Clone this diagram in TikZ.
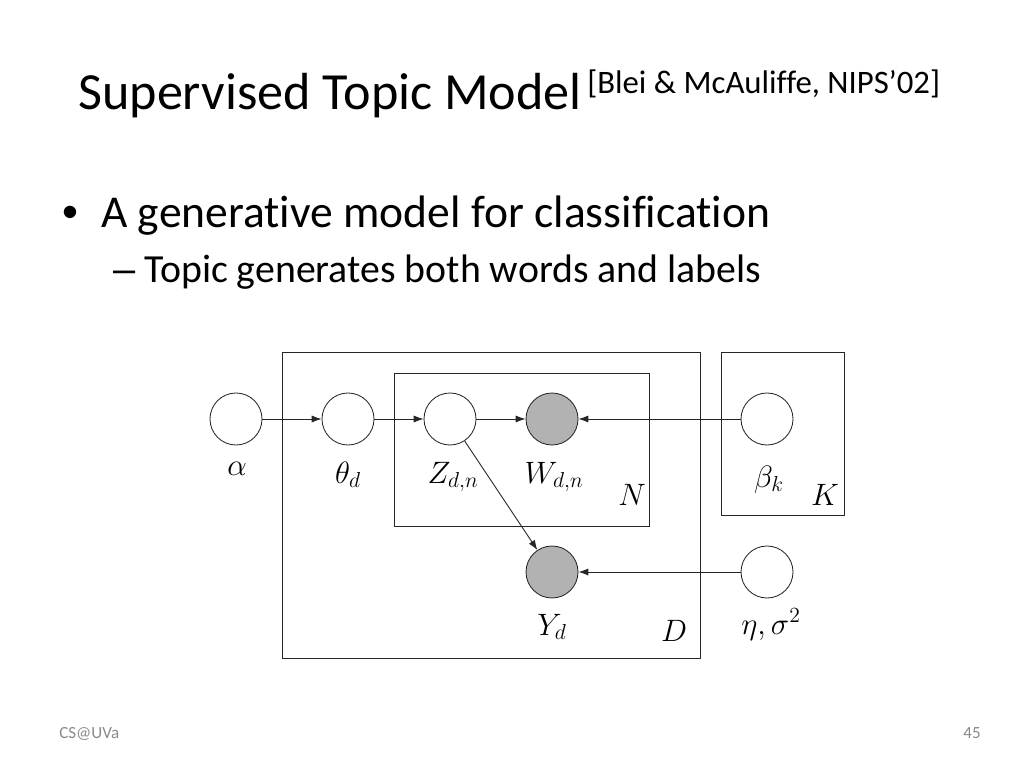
\RequirePackage{fix-cm}
\documentclass[tikz,border=0pt]{standalone}
\usepackage[no-math]{fontspec}
\setmainfont{Carlito}[Ligatures={TeX,NoCommon}]
\newfontfamily\bulletfont{Liberation Sans}
\usetikzlibrary{arrows.meta,positioning}

\definecolor{footgray}{HTML}{898989}
\tikzset{
  latent/.style={circle,draw=black!85,line width=0.6pt,minimum size=1.3cm,inner sep=0pt},
  obs/.style={latent,fill=black!30},
  lbl/.style={anchor=base,inner sep=0pt,font=\fontsize{22}{26}\selectfont},
  plate/.style={draw=black!85,line width=0.6pt},
  edge/.style={-{Latex[length=7pt,width=5pt]},draw=black!85,line width=0.6pt},
  txt/.style={anchor=base west,inner sep=0pt},
}

\begin{document}
\begin{tikzpicture}[x=0.025cm,y=-0.025cm]
\useasboundingbox (0,0) rectangle (1024,768);
% title, bullets, footer
\node[txt,font=\fontsize{37.1}{42}\selectfont] (title) at (78,110) {Supervised Topic Model};
\node[txt,font=\fontsize{23.3}{28}\selectfont] (cite) at (587,94) {[Blei \& McAuliffe, NIPS’02]};
\node[anchor=base,inner sep=0pt,font=\bulletfont\fontsize{32.4}{38}\selectfont] (dot) at (70,227) {•};
\node[txt,font=\fontsize{32.4}{38}\selectfont] (item) at (101,227) {A generative model for classification};
\node[txt,font=\bulletfont\fontsize{28.3}{34}\selectfont] (dash) at (113,282) {–};
\node[txt,font=\fontsize{28.3}{34}\selectfont] (subitem) at (144,282) {Topic generates both words and labels};
\node[txt,font=\fontsize{12.1}{14}\selectfont,text=footgray] (foot) at (59,738) {CS@UVa};
\node[anchor=base east,inner sep=0pt,font=\fontsize{12.1}{14}\selectfont,text=footgray] (page) at (981,738) {45};

% plates
\draw[plate] (282,352) rectangle (700,658);
\draw[plate] (394,373) rectangle (649,526);
\draw[plate] (721,352) rectangle (844,515);

% variables
\node[latent] (alpha) at (236,419) {};
\node[latent] (theta) at (348,419) {};
\node[latent] (z) at (450,419) {};
\node[obs] (w) at (552,419) {};
\node[obs] (y) at (552,572) {};
\node[latent] (beta) at (767,419) {};
\node[latent] (eta) at (767,572) {};

% labels
\node[lbl] (lalpha) at (237,475) {$\alpha$};
\node[lbl] (ltheta) at (348,483) {$\theta_d$};
\node[lbl] (lz) at (453,483) {$Z_{d,n}$};
\node[lbl] (lw) at (554,483) {$W_{d,n}$};
\node[lbl] (lbeta) at (769,487) {$\beta_k$};
\node[lbl] (ly) at (552,635) {$Y_d$};
\node[lbl] (leta) at (771,634) {$\eta,\sigma^2$};
\node[lbl] (pn) at (632,505) {$N$};
\node[lbl] (pk) at (825,505) {$K$};
\node[lbl] (pd) at (674,641) {$D$};

% edges
\draw[edge] (alpha) -- (theta);
\draw[edge] (theta) -- (z);
\draw[edge] (z) -- (w);
\draw[edge] (beta) -- (w);
\draw[edge] (z) -- (y);
\draw[edge] (eta) -- (y);
\end{tikzpicture}
\end{document}
